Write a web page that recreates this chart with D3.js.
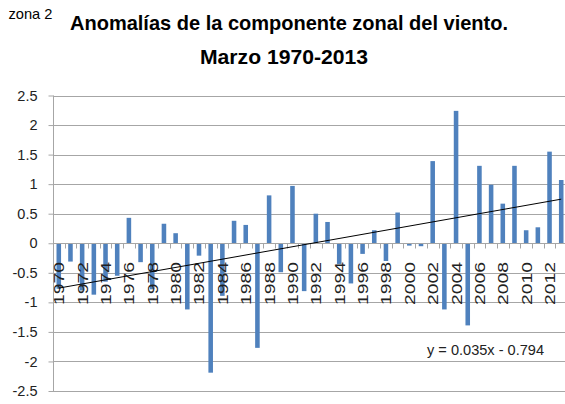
<!DOCTYPE html>
<html>
<head>
    <title>Anomalías zona 2</title>
    <script src="https://cdnjs.cloudflare.com/ajax/libs/d3/7.8.5/d3.min.js" charset="utf-8"></script>
    <style>
    body { margin:0; background:#fff; }
    svg { display:block; font-family:"Liberation Sans", Arial, sans-serif; }
    </style>
</head>
<body>
    <div class="svg-container"></div>
    <script>

    // years of the series (march, 1970-2013)
    var years = d3.range(1970, 2014);

    // anomalies
    var values = [
        -0.77, -0.31, -0.80, -0.87, -0.65, -0.55, 0.43, -0.32, -0.78, 0.33,
         0.17, -1.12, -0.21, -2.19, -0.89, 0.38, 0.31, -1.77, 0.81, -0.49,
         0.97, -0.81, 0.50, 0.36, -0.35, -0.68, -0.18, 0.22, -0.30, 0.52,
        -0.04, -0.05, 1.39, -1.12, 2.24, -1.39, 1.31, 0.99, 0.67, 1.31,
         0.22, 0.27, 1.55, 1.07
    ];

    var yTicks = [2.5, 2, 1.5, 1, 0.5, 0, -0.5, -1, -1.5, -2, -2.5];
    var xLabels = years.filter(function(y) { return (y - 1970) % 2 === 0; });

    // linear trend, x = 1 for the first year
    var slope = 0.035;
    var intercept = -0.794;
    var trendText = 'y = 0.035x - 0.794';

    var width = 565;
    var height = 404;

    var svg = d3.select('.svg-container').append('svg')
        .attr('width', width)
        .attr('height', height);

    var x = d3.scaleBand()
        .domain(years)
        .range([53, 567])
        .paddingInner(0.61)
        .paddingOuter(0.3);

    var y = d3.scaleLinear()
        .domain([-2.5, 2.5])
        .range([391, 95.5]);

    var cx = function(yr) { return x(yr) + x.bandwidth() / 2; };

    // horizontal gridlines
    svg.append('g')
        .selectAll('line')
        .data(yTicks)
        .enter().append('line')
        .attr('x1', 53)
        .attr('x2', width)
        .attr('y1', function(d) { return Math.round(y(d)) + 0.5; })
        .attr('y2', function(d) { return Math.round(y(d)) + 0.5; })
        .attr('stroke', '#a6a6a6')
        .attr('stroke-width', 1);

    // y axis
    var yAxis = svg.append('g')
        .attr('transform', 'translate(53.5,0)')
        .call(d3.axisLeft(y).tickValues(yTicks).tickSize(5).tickPadding(11)
            .tickFormat(function(d) { return d; }));
    yAxis.select('.domain').attr('stroke', '#a6a6a6').attr('d', 'M0,' + y(2.5) + 'V' + y(-2.5));
    yAxis.selectAll('.tick line').attr('stroke', '#a6a6a6');
    yAxis.selectAll('.tick text')
        .attr('font-size', '14.5px')
        .attr('font-family', '"Liberation Sans", Arial, sans-serif')
        .attr('fill', '#222');

    // bars
    svg.append('g')
        .selectAll('rect')
        .data(values)
        .enter().append('rect')
        .attr('x', function(d, i) { return x(years[i]); })
        .attr('width', x.bandwidth())
        .attr('y', function(d) { return y(Math.max(0, d)); })
        .attr('height', function(d) { return Math.abs(y(d) - y(0)); })
        .attr('fill', '#4f81bd');

    // zero axis with tick marks between categories
    var y0 = Math.round(y(0)) + 0.5;
    svg.append('line')
        .attr('x1', 53).attr('x2', width)
        .attr('y1', y0).attr('y2', y0)
        .attr('stroke', '#a6a6a6');

    var step = x.step();
    svg.append('g')
        .selectAll('line')
        .data(years)
        .enter().append('line')
        .attr('x1', function(d) { return Math.round(cx(d) - step / 2) + 0.5; })
        .attr('x2', function(d) { return Math.round(cx(d) - step / 2) + 0.5; })
        .attr('y1', y0)
        .attr('y2', y0 + 5)
        .attr('stroke', '#a6a6a6');

    // rotated year labels
    svg.append('g')
        .selectAll('text')
        .data(xLabels)
        .enter().append('text')
        .attr('transform', function(d) { return 'translate(' + (cx(d) + 5.5) + ',262) rotate(-90)'; })
        .attr('text-anchor', 'end')
        .attr('font-size', '14px')
        .attr('textLength', 43)
        .attr('lengthAdjust', 'spacingAndGlyphs')
        .attr('fill', '#222')
        .text(function(d) { return d; });

    // trend line
    var first = years[0], last = years[years.length - 1];
    svg.append('line')
        .attr('x1', cx(first))
        .attr('y1', y(slope * 1 + intercept))
        .attr('x2', cx(last))
        .attr('y2', y(slope * years.length + intercept))
        .attr('stroke', '#000')
        .attr('stroke-width', 1);

    svg.append('text')
        .attr('x', 427)
        .attr('y', 355)
        .attr('font-size', '15px')
        .attr('textLength', 117)
        .attr('lengthAdjust', 'spacingAndGlyphs')
        .attr('fill', '#222')
        .text(trendText);

    // titles
    svg.append('text')
        .attr('x', 8.5).attr('y', 18.5)
        .attr('font-size', '15px')
        .attr('textLength', 44)
        .attr('lengthAdjust', 'spacingAndGlyphs')
        .attr('fill', '#000')
        .text('zona 2');

    svg.append('text')
        .attr('x', 70).attr('y', 29.5)
        .attr('font-size', '21px')
        .attr('font-weight', 'bold')
        .attr('textLength', 438)
        .attr('lengthAdjust', 'spacingAndGlyphs')
        .attr('fill', '#000')
        .text('Anomalías de la componente zonal del viento.');

    svg.append('text')
        .attr('x', 200).attr('y', 63.5)
        .attr('font-size', '21px')
        .attr('font-weight', 'bold')
        .attr('textLength', 168)
        .attr('lengthAdjust', 'spacingAndGlyphs')
        .attr('fill', '#000')
        .text('Marzo 1970-2013');

    </script>
</body>
</html>
